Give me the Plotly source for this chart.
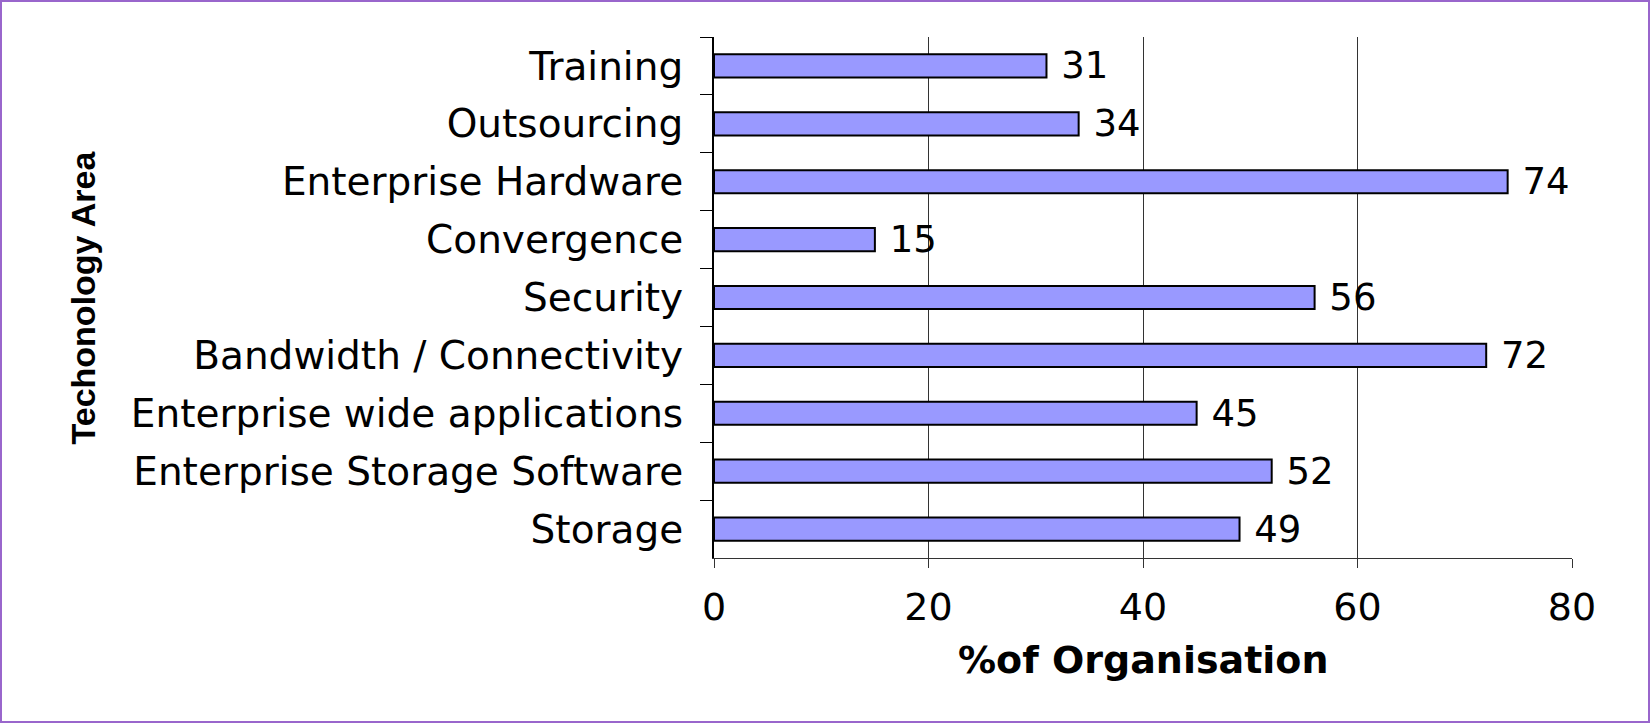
import plotly.graph_objects as go

categories = ["Training", "Outsourcing", "Enterprise Hardware", "Convergence", "Security",
              "Bandwidth / Connectivity", "Enterprise wide applications",
              "Enterprise Storage Software", "Storage"]
values = [31, 34, 74, 15, 56, 72, 45, 52, 49]
x_ticks = [0, 20, 40, 60, 80]
x_title = "%of Organisation"
y_title = "Techonology Area"

W, H = 1651, 724
L, R, T, B = 714, 79, 37, 166
pw, ph = W - L - R, H - T - B

FONT = "DejaVu Sans"
FS = 38

fig = go.Figure(go.Bar(
    x=values, y=categories, orientation="h",
    marker=dict(color="#9999FF", line=dict(color="black", width=2)),
    text=values, texttemplate="\u00a0%{x}", textposition="outside",
    textfont=dict(family=FONT, size=37, color="black"),
    constraintext="none", cliponaxis=False,
))

fig.update_layout(
    width=W, height=H,
    margin=dict(l=L, r=R, t=T, b=B, autoexpand=False),
    paper_bgcolor="white", plot_bgcolor="white",
    bargap=0.6, showlegend=False,
    font=dict(family=FONT, size=FS, color="black"),
)
fig.update_xaxes(
    range=[0, 80], tickvals=x_ticks, ticktext=[str(v) for v in x_ticks],
    showgrid=True, gridcolor="#333333", gridwidth=1,
    showline=True, linecolor="#333333", linewidth=1,
    ticks="outside", ticklen=9, tickcolor="#333333",
    tickfont=dict(family=FONT, size=FS, color="black"),
    ticklabelstandoff=6, zeroline=False, automargin=False,
)
fig.update_yaxes(
    autorange="reversed", type="category",
    showline=True, linecolor="black", linewidth=2,
    ticks="outside", ticklen=12, tickcolor="black", tickson="boundaries",
    tickfont=dict(family=FONT, size=39, color="black"),
    ticklabelstandoff=21, showgrid=False, automargin=False,
)

fig.add_annotation(
    text=f"<b>{y_title}</b>", xref="paper", yref="paper",
    x=(82 - L) / pw, y=0.5, xanchor="center", yanchor="middle",
    textangle=-90, showarrow=False,
    font=dict(family="Liberation Sans", size=34, color="black"),
)
fig.add_annotation(
    text=f"<b>{x_title}</b>", xref="paper", yref="paper",
    x=0.5, y=(T + ph - 660) / ph, xanchor="center", yanchor="middle",
    showarrow=False,
    font=dict(family=FONT, size=38, color="black"),
)
fig.add_shape(
    type="rect", xref="paper", yref="paper",
    x0=(1 - L) / pw, x1=(W - 2 - L) / pw,
    y0=(T + ph - (H - 2)) / ph, y1=(T + ph - 1) / ph,
    line=dict(color="#9966CC", width=2), layer="above",
)

fig.write_html("out.html", config={"displayModeBar": False},
               post_script="document.body.style.margin='0';")
